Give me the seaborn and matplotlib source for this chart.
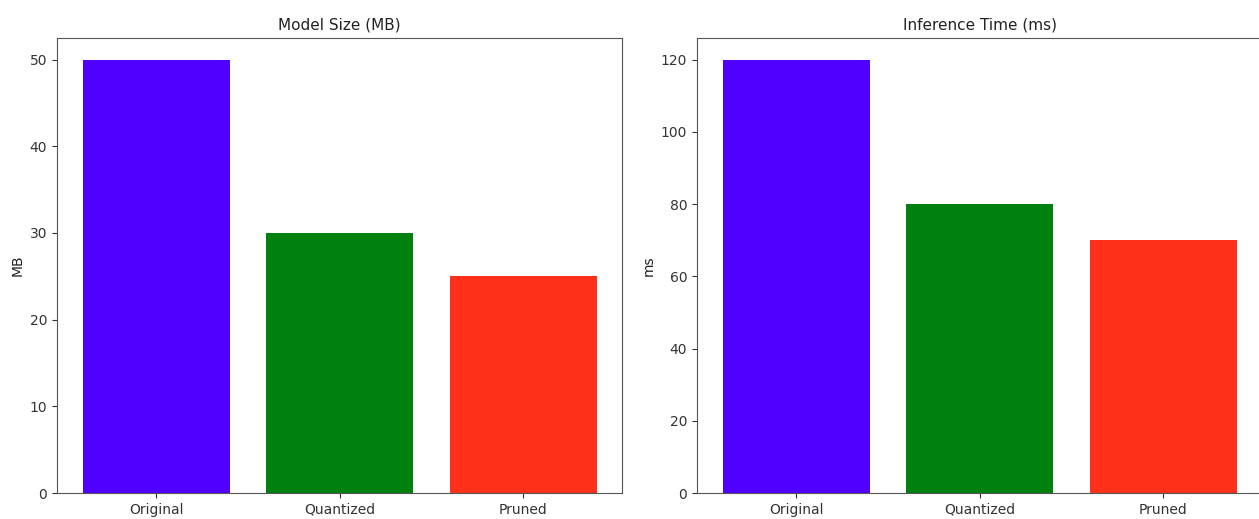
import matplotlib
matplotlib.use("Agg")
import matplotlib.pyplot as plt
import seaborn as sns
import pandas as pd

# model comparison data
models = ["Original", "Quantized", "Pruned"]
size_mb = [50, 30, 25]
time_ms = [120, 80, 70]
colors = ["#5000FF", "#00800F", "#FF3019"]

df = pd.DataFrame({"model": models, "size": size_mb, "time": time_ms})
palette = dict(zip(models, colors))

fig = plt.figure(figsize=(12.59, 5.19), dpi=100)
ax1 = fig.add_axes([0.0453, 0.05, 0.449, 0.877])
ax2 = fig.add_axes([0.5536, 0.05, 0.449, 0.877])

sns.barplot(data=df, x="model", y="size", hue="model", palette=palette,
            saturation=1, width=0.8, legend=False, ax=ax1)
ax1.set_title("Model Size (MB)", fontsize=11, color="#222222")
ax1.set_ylabel("MB", color="#222222")
ax1.set_xlabel("")

sns.barplot(data=df, x="model", y="time", hue="model", palette=palette,
            saturation=1, width=0.8, legend=False, ax=ax2)
ax2.set_title("Inference Time (ms)", fontsize=11, color="#222222")
ax2.set_ylabel("ms", color="#222222")
ax2.set_xlabel("")

for ax in (ax1, ax2):
    ax.set_xlim(-0.54, 2.54)
    ax.tick_params(colors="#333333")
    for s in ax.spines.values():
        s.set_color("#555555")

ax1.set_ylim(0, 52.5)
ax2.set_ylim(0, 126)

fig.savefig("out.png", dpi=100)
